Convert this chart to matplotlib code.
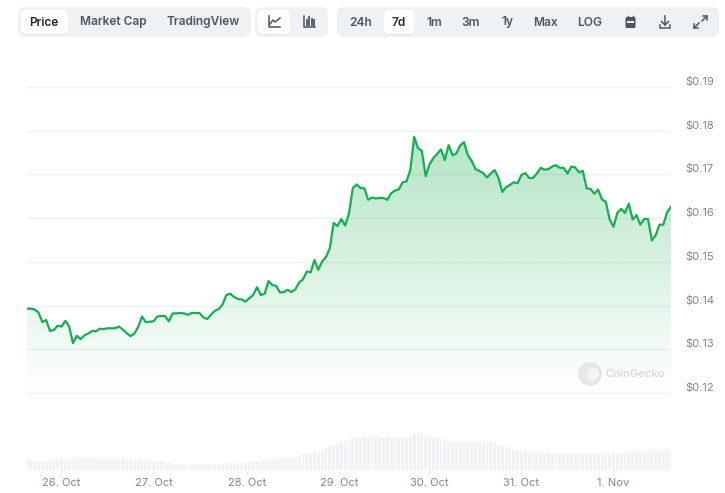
import numpy as np
import matplotlib
matplotlib.use("Agg")
import matplotlib.pyplot as plt
from matplotlib.colors import LinearSegmentedColormap
from matplotlib.patches import FancyBboxPatch, Circle, Rectangle
from matplotlib.transforms import ScaledTranslation

plt.rcParams['font.family'] = ['Inter', 'DejaVu Sans']

# hourly price
price = [
    .1393, .1393, .1391, .1384, .1362, .1367, .1342, .1344, .1354, .1352, .1365, .1352,
    .1314, .1331, .1323, .1332, .1336, .1342, .1341, .1347, .1346, .1348, .1348, .1348,
    .1352, .1345, .1337, .1330, .1336, .1351, .1375, .1362, .1363, .1364, .1375, .1376,
    .1376, .1364, .1382, .1382, .1383, .1382, .1379, .1383, .1383, .1383, .1373, .1369,
    .1379, .1388, .1392, .1402, .1424, .1427, .1420, .1415, .1414, .1409, .1417, .1424,
    .1442, .1424, .1427, .1456, .1447, .1445, .1430, .1431, .1436, .1431, .1437, .1453,
    .1460, .1478, .1476, .1504, .1482, .1501, .1511, .1531, .1589, .1582, .1598, .1583,
    .1611, .1669, .1677, .1669, .1668, .1642, .1647, .1645, .1646, .1646, .1642, .1657,
    .1663, .1666, .1682, .1684, .1710, .1786, .1760, .1754, .1696, .1723, .1737, .1747,
    .1757, .1733, .1767, .1744, .1748, .1766, .1774, .1744, .1731, .1712, .1708, .1703,
    .1693, .1702, .1710, .1692, .1660, .1671, .1676, .1682, .1680, .1699, .1703, .1692,
    .1692, .1702, .1715, .1711, .1712, .1718, .1721, .1715, .1715, .1702, .1718, .1716,
    .1705, .1708, .1668, .1667, .1656, .1665, .1643, .1637, .1597, .1580, .1612, .1621,
    .1612, .1633, .1597, .1607, .1585, .1598, .1598, .1549, .1561, .1585, .1585, .1614,
    .1626,
]

# volume bars, same hours, arbitrary units
volume = [
    10, 10, 9.5, 9.5, 9, 9.5, 10, 10.5, 11, 11, 10, 10, 11.5, 12.5, 12.5, 12.5, 12.5, 12.5,
    12.5, 11.5, 11, 11, 11, 11, 11, 11, 10.5, 10.5, 10, 10, 10, 10, 10, 9.5, 9.5, 9.5, 8.5, 7,
    6.5, 6.5, 6, 6, 6, 6, 6, 6, 6, 6, 6.5, 6.5, 6.5, 6, 7, 7, 7.5, 7.5, 7.5, 7.5,
    8, 8.5, 9, 9.5, 10, 10.5, 11, 11.5, 12, 12, 12.5, 13, 13.5, 14, 15, 16, 17, 18, 18, 19,
    22, 24, 25.5, 26, 27, 29, 31, 31.5, 32, 33, 33.5, 33.5, 34, 34, 33.5, 33.5, 33.5, 33.5, 33,
    33, 33, 33, 33, 37, 37, 35, 34, 34, 33, 32, 31, 31, 29, 28, 28, 28, 28, 28, 28, 28, 29, 29, 29, 28, 27,
    25, 24, 23, 21, 20, 20, 19, 19, 18.5, 18, 18, 17.5, 17.5, 17, 17, 16.5, 16.5, 16.5,
    16.5, 16, 16, 16, 16, 16, 16, 16, 17, 17, 17, 17.5, 18, 17.5, 17, 18, 18.5, 18.5, 19, 18.5, 18,
    19.5, 20, 20, 19.5, 20, 20, 20, 20,
]

price_ticks = [0.12, 0.13, 0.14, 0.15, 0.16, 0.17, 0.18, 0.19]
price_labels = ['$0.12', '$0.13', '$0.14', '$0.15', '$0.16', '$0.17', '$0.18', '$0.19']
day_hours = [9, 33, 57.5, 81.5, 105, 129, 153]
day_labels = ['26. Oct', '27. Oct', '28. Oct', '29. Oct', '30. Oct', '31. Oct', '1. Nov']

tabs_view = ['Price', 'Market Cap', 'TradingView']
tabs_range = ['24h', '7d', '1m', '3m', '1y', 'Max', 'LOG']

W, H = 725, 493
GREEN = '#14b04f'
GRID = '#eef1f4'
LABEL = '#7b8798'
DARK = '#4b5565'

fig = plt.figure(figsize=(W / 100, H / 100), dpi=100)

# main chart, 27..671 px wide, 87..470 px tall
ax = fig.add_axes([27 / W, 1 - 470 / H, 644 / W, 383 / H])
hours = np.arange(len(price))
ymin = 0.12 - 77 / 4370
ax.set_xlim(0, len(price) - 1)
ax.set_ylim(ymin, 0.19)

# volume sits on its own scale at the bottom
ax2 = ax.twinx()
ax2.bar(np.arange(len(volume)), volume, width=0.7, color='#f0f2f6', zorder=1)
ax2.set_ylim(0, 383)
ax2.set_xlim(0, len(price) - 1)
ax2.axis('off')

ax.set_zorder(ax2.get_zorder() + 1)
ax.patch.set_visible(False)

# grid goes under the gradient, it only shows faintly through the green
for p in price_ticks:
    ax.axhline(p, color=GRID, lw=1, zorder=0.5)

cmap = LinearSegmentedColormap.from_list('fade', [(0, 168 / 255, 62 / 255, 0.30), (0, 168 / 255, 62 / 255, 0.0)])
poly = ax.fill_between(hours, price, 0.12, color='none', zorder=1)
img = ax.imshow(np.linspace(0, 1, 256).reshape(-1, 1), cmap=cmap, aspect='auto', zorder=1,
                extent=(0, len(price) - 1, 0.12, max(price)), origin='upper')
img.set_clip_path(poly.get_paths()[0], transform=ax.transData)
ax.set_xlim(0, len(price) - 1)
ax.set_ylim(ymin, 0.19)

ax.plot(hours, price, color=GREEN, lw=1.6, zorder=3, solid_joinstyle='round')

for s in ax.spines.values():
    s.set_visible(False)
ax.yaxis.tick_right()
ax.set_yticks(price_ticks)
ax.set_yticklabels(price_labels, fontsize=8, color=LABEL)
ax.tick_params(axis='y', length=0, pad=10)
# labels sit a little above their grid line
up = ScaledTranslation(0, 5 / 100, fig.dpi_scale_trans)
for lab in ax.get_yticklabels():
    lab.set_verticalalignment('center')
    lab.set_transform(lab.get_transform() + up)
ax.set_xticks(day_hours)
ax.set_xticklabels(day_labels, fontsize=8, color=LABEL)
ax.tick_params(axis='x', length=4.5, width=0.8, color='#e8ebef', pad=1.5)

# toolbar and watermark, drawn in pixel coordinates
ui = fig.add_axes([0, 0, 1, 1], zorder=5)
ui.set_xlim(0, W)
ui.set_ylim(H, 0)
ui.axis('off')


def box(x0, y0, x1, y1, color, r=5, shadow=False):
    if shadow:
        ui.add_patch(FancyBboxPatch((x0, y0 + 1), x1 - x0, y1 - y0, boxstyle='round,pad=0,rounding_size=%s' % r,
                                    fc='#e3e7ee', ec='none'))
    ui.add_patch(FancyBboxPatch((x0, y0), x1 - x0, y1 - y0, boxstyle='round,pad=0,rounding_size=%s' % r,
                                fc=color, ec='none'))


box(18, 7, 251, 37, '#eff2f5', 7)
box(255, 7, 328, 37, '#eff2f5', 7)
box(337, 7, 719, 37, '#eff2f5', 7)
box(21, 10, 68, 34, 'white', 5, True)
box(258, 10, 290, 34, 'white', 5, True)
box(384, 10, 414, 34, 'white', 5, True)

for name, xc in zip(tabs_view, [44, 113, 203]):
    ui.text(xc, 22.5, name, ha='center', va='center', fontsize=8.6, fontweight='semibold',
            color='#1f2937' if name == 'Price' else DARK)
for name, xc in zip(tabs_range, [361, 399, 434, 471, 507, 545, 590]):
    ui.text(xc, 22.5, name, ha='center', va='center', fontsize=8.6, fontweight='semibold',
            color='#1f2937' if name == '7d' else DARK)

# line chart icon
ui.plot([269, 269, 280], [16, 27, 27], color=DARK, lw=1.1)
ui.plot([270, 273, 275, 280], [24, 20, 22, 18], color=DARK, lw=1.1)
# candle icon
ui.plot([304, 304, 315], [16, 27, 27], color=DARK, lw=1.1)
for bx, top, bot in [(307, 20, 25), (309.5, 17, 25), (312, 19, 25), (314.5, 20, 25)]:
    ui.plot([bx, bx], [top, bot], color=DARK, lw=1.3)
# calendar
box(625.5, 17, 635.5, 28, DARK, 1.5)
ui.add_patch(Rectangle((627, 21), 7, 2, fc='#eff2f5', ec='none'))
ui.plot([628, 628], [16, 18], color=DARK, lw=1)
ui.plot([633, 633], [16, 18], color=DARK, lw=1)
# download
ui.plot([665, 665], [16, 25], color=DARK, lw=1.1)
ui.plot([661.5, 665, 668.5], [21.5, 25, 21.5], color=DARK, lw=1.1)
ui.plot([660, 660, 670, 670], [25, 28, 28, 25], color=DARK, lw=1.1)
# expand
ui.plot([702, 707], [21, 16], color=DARK, lw=1.1)
ui.plot([703, 707, 707], [16, 16, 20], color=DARK, lw=1.1)
ui.plot([694, 699], [28, 23], color=DARK, lw=1.1)
ui.plot([694, 694, 698], [24, 28, 28], color=DARK, lw=1.1)

# watermark
ui.add_patch(Circle((590, 374), 11, fc='#e6e8ea', ec='#dcdfe2', lw=0.8))
ui.add_patch(Circle((593, 374), 6, fc='#f4f5f6', ec='none'))
ui.text(605, 374, 'CoinGecko', ha='left', va='center', fontsize=8.2, fontweight='medium', color='#d3d7dc')

print(len(price), len(volume))
fig.savefig('out.png', dpi=100)
